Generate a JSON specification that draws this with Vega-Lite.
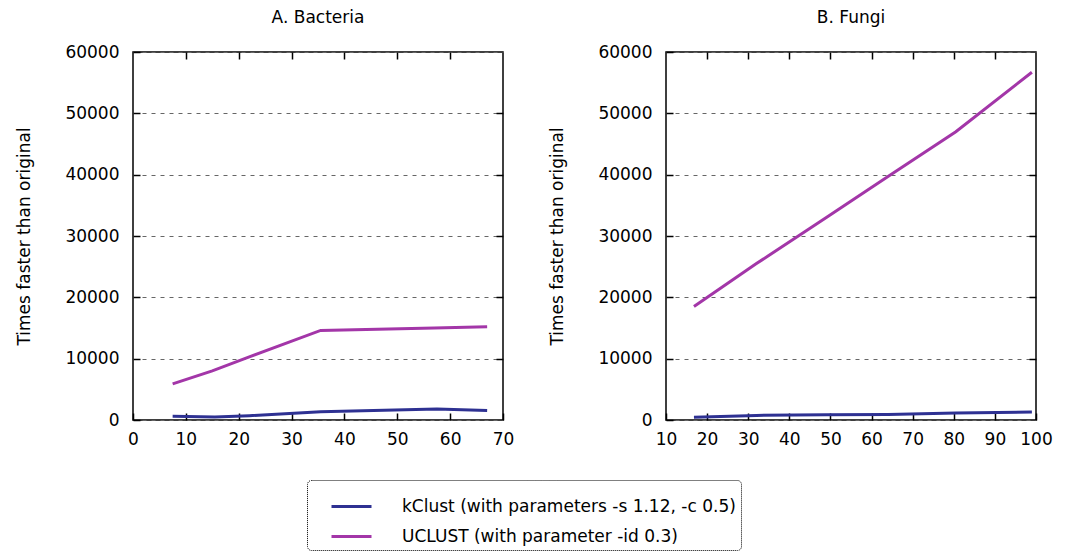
{
  "$schema": "https://vega.github.io/schema/vega-lite/v6.json",
  "background": "white",
  "padding": {"left": 15, "top": 8, "right": 10, "bottom": 0},
  "spacing": 33,
  "config": {
    "font": "DejaVu Sans",
    "view": {"stroke": "#000", "strokeWidth": 1.5},
    "title": {"fontSize": 17, "fontWeight": "normal", "font": "DejaVu Sans", "offset": 16, "color": "#000"},
    "axis": {"labelFont": "DejaVu Sans", "labelFontSize": 17, "labelColor": "#000", "titleFont": "DejaVu Sans", "titleFontSize": 17, "titleFontWeight": "normal", "titleColor": "#000", "domain": false, "tickColor": "#000", "tickWidth": 1.5, "tickSize": -7, "labelPadding": 21, "labelOverlap": false, "labelFlush": false, "format": "d"}
  },
  "data": {"values": [
    {"panel": "A", "tool": "kClust (with parameters -s 1.12, -c 0.5)", "x": 7.5, "y": 600},
    {"panel": "A", "tool": "kClust (with parameters -s 1.12, -c 0.5)", "x": 15.5, "y": 480},
    {"panel": "A", "tool": "kClust (with parameters -s 1.12, -c 0.5)", "x": 22, "y": 700},
    {"panel": "A", "tool": "kClust (with parameters -s 1.12, -c 0.5)", "x": 35.5, "y": 1350},
    {"panel": "A", "tool": "kClust (with parameters -s 1.12, -c 0.5)", "x": 57.5, "y": 1800},
    {"panel": "A", "tool": "kClust (with parameters -s 1.12, -c 0.5)", "x": 67, "y": 1550},
    {"panel": "A", "tool": "UCLUST (with parameter -id 0.3)", "x": 7.5, "y": 5900},
    {"panel": "A", "tool": "UCLUST (with parameter -id 0.3)", "x": 15, "y": 8000},
    {"panel": "A", "tool": "UCLUST (with parameter -id 0.3)", "x": 22, "y": 10300},
    {"panel": "A", "tool": "UCLUST (with parameter -id 0.3)", "x": 35.5, "y": 14600},
    {"panel": "A", "tool": "UCLUST (with parameter -id 0.3)", "x": 57, "y": 15000},
    {"panel": "A", "tool": "UCLUST (with parameter -id 0.3)", "x": 67, "y": 15200},
    {"panel": "B", "tool": "kClust (with parameters -s 1.12, -c 0.5)", "x": 16.8, "y": 450},
    {"panel": "B", "tool": "kClust (with parameters -s 1.12, -c 0.5)", "x": 32, "y": 750},
    {"panel": "B", "tool": "kClust (with parameters -s 1.12, -c 0.5)", "x": 49, "y": 850},
    {"panel": "B", "tool": "kClust (with parameters -s 1.12, -c 0.5)", "x": 64, "y": 900},
    {"panel": "B", "tool": "kClust (with parameters -s 1.12, -c 0.5)", "x": 80.5, "y": 1150},
    {"panel": "B", "tool": "kClust (with parameters -s 1.12, -c 0.5)", "x": 99, "y": 1300},
    {"panel": "B", "tool": "UCLUST (with parameter -id 0.3)", "x": 16.8, "y": 18500},
    {"panel": "B", "tool": "UCLUST (with parameter -id 0.3)", "x": 32, "y": 25500},
    {"panel": "B", "tool": "UCLUST (with parameter -id 0.3)", "x": 49, "y": 33000},
    {"panel": "B", "tool": "UCLUST (with parameter -id 0.3)", "x": 64, "y": 39700},
    {"panel": "B", "tool": "UCLUST (with parameter -id 0.3)", "x": 80.5, "y": 47000},
    {"panel": "B", "tool": "UCLUST (with parameter -id 0.3)", "x": 99, "y": 56700}
  ]},
  "hconcat": [
    {
      "width": 370, "height": 368,
      "title": "A. Bacteria",
      "transform": [{"filter": "datum.panel == 'A'"}],
      "layer": [
        {
          "mark": {"type": "line", "strokeWidth": 3},
          "encoding": {
            "x": {"field": "x", "type": "quantitative", "scale": {"domain": [0, 70], "nice": false}, "axis": {"orient": "bottom", "values": [0,10,20,30,40,50,60,70], "title": null, "grid": false, "labelPadding": 18}},
            "y": {"field": "y", "type": "quantitative", "scale": {"domain": [0, 60000], "nice": false}, "axis": {"orient": "left", "values": [0,10000,20000,30000,40000,50000,60000], "title": "Times faster than original", "titlePadding": 31, "grid": true, "gridColor": "#666", "gridDash": [4, 5], "gridWidth": 1}},
            "color": {"field": "tool", "type": "nominal", "scale": {"domain": ["kClust (with parameters -s 1.12, -c 0.5)", "UCLUST (with parameter -id 0.3)"], "range": ["#2e3192", "#a336a8"]}, "legend": {"title": null, "orient": "none", "legendX": 174, "legendY": 428, "symbolType": "stroke", "symbolSize": 1600, "symbolStrokeWidth": 3, "symbolOffset": 18, "labelFontSize": 17, "labelFont": "DejaVu Sans", "labelColor": "#000", "labelOffset": 29, "rowPadding": -14, "padding": 5, "strokeColor": "#000", "labelLimit": 600, "fillColor": "white", "cornerRadius": 4, "encode": {"legend": {"update": {"strokeDash": {"value": [1, 1]}, "strokeWidth": {"value": 1}}}}}}
          }
        },
        {
          "mark": {"type": "line", "opacity": 0},
          "encoding": {
            "x": {"field": "x", "type": "quantitative", "scale": {"domain": [0, 70], "nice": false}, "axis": {"orient": "top", "values": [10,20,30,40,50,60], "labels": false, "title": null, "grid": false}},
            "y": {"field": "y", "type": "quantitative", "scale": {"domain": [0, 60000], "nice": false}, "axis": {"orient": "right", "values": [10000,20000,30000,40000,50000], "labels": false, "title": null, "grid": false}}
          }
        }
      ],
      "resolve": {"axis": {"x": "independent", "y": "independent"}}
    },
    {
      "width": 370, "height": 368,
      "title": "B. Fungi",
      "transform": [{"filter": "datum.panel == 'B'"}],
      "layer": [
        {
          "mark": {"type": "line", "strokeWidth": 3},
          "encoding": {
            "x": {"field": "x", "type": "quantitative", "scale": {"domain": [10, 100], "nice": false}, "axis": {"orient": "bottom", "values": [10,20,30,40,50,60,70,80,90,100], "title": null, "grid": false, "labelPadding": 18}},
            "y": {"field": "y", "type": "quantitative", "scale": {"domain": [0, 60000], "nice": false}, "axis": {"orient": "left", "values": [0,10000,20000,30000,40000,50000,60000], "title": "Times faster than original", "titlePadding": 31, "grid": true, "gridColor": "#666", "gridDash": [4, 5], "gridWidth": 1}},
            "color": {"field": "tool", "type": "nominal", "scale": {"domain": ["kClust (with parameters -s 1.12, -c 0.5)", "UCLUST (with parameter -id 0.3)"], "range": ["#2e3192", "#a336a8"]}}
          }
        },
        {
          "mark": {"type": "line", "opacity": 0},
          "encoding": {
            "x": {"field": "x", "type": "quantitative", "scale": {"domain": [10, 100], "nice": false}, "axis": {"orient": "top", "values": [20,30,40,50,60,70,80,90], "labels": false, "title": null, "grid": false}},
            "y": {"field": "y", "type": "quantitative", "scale": {"domain": [0, 60000], "nice": false}, "axis": {"orient": "right", "values": [10000,20000,30000,40000,50000], "labels": false, "title": null, "grid": false}}
          }
        }
      ],
      "resolve": {"axis": {"x": "independent", "y": "independent"}}
    }
  ]
}
